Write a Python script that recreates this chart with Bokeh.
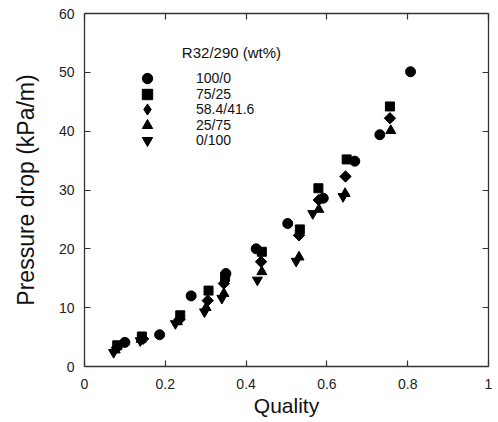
import math
from bokeh.plotting import figure
from bokeh.models import Range1d, LinearAxis, FixedTicker, Label, Legend
from bokeh.embed import file_html
from bokeh.resources import INLINE

# R32/290 mixtures (wt%)
q_100_0 = [0.100, 0.186, 0.264, 0.350, 0.425, 0.503, 0.591, 0.669, 0.731, 0.807]
dp_100_0 = [4.1, 5.4, 12.0, 15.8, 20.0, 24.3, 28.6, 34.9, 39.4, 50.1]

q_75_25 = [0.081, 0.142, 0.237, 0.307, 0.348, 0.439, 0.533, 0.579, 0.649, 0.756]
dp_75_25 = [3.6, 5.1, 8.7, 12.9, 15.2, 19.5, 23.3, 30.3, 35.2, 44.2]

q_584_416 = [0.080, 0.145, 0.235, 0.305, 0.345, 0.437, 0.531, 0.580, 0.646, 0.756]
dp_584_416 = [3.2, 4.7, 8.0, 11.2, 14.1, 17.8, 22.3, 28.3, 32.3, 42.2]

q_25_75 = [0.076, 0.140, 0.230, 0.301, 0.345, 0.439, 0.531, 0.580, 0.645, 0.758]
dp_25_75 = [2.8, 4.6, 7.6, 10.0, 12.4, 16.1, 18.6, 26.7, 29.4, 40.1]

q_0_100 = [0.072, 0.138, 0.225, 0.297, 0.340, 0.428, 0.524, 0.565, 0.640]
dp_0_100 = [2.4, 4.4, 7.3, 9.3, 11.6, 14.7, 17.9, 26.0, 28.9]

series_labels = ["100/0", "75/25", "58.4/41.6", "25/75", "0/100"]
legend_title = "R32/290 (wt%)"

x_ticks = [0, 0.2, 0.4, 0.6, 0.8, 1]
x_tick_labels = ["0", "0.2", "0.4", "0.6", "0.8", "1"]
y_ticks = [0, 10, 20, 30, 40, 50, 60]

FONT = "Liberation Sans"

p = figure(width=498, height=422, output_backend="svg", toolbar_location=None,
           x_range=Range1d(0, 1), y_range=Range1d(0, 60),
           min_border_left=84, min_border_right=10, min_border_top=13, min_border_bottom=56,
           x_axis_label="Quality", y_axis_label="Pressure drop (kPa/m)")
p.grid.visible = False
p.outline_line_color = None
p.background_fill_color = "white"

def style_axis(ax, ticks, show_labels=True):
    ax.ticker = FixedTicker(ticks=ticks)
    ax.axis_line_color = "#333333"
    ax.axis_line_width = 1.3
    ax.major_tick_line_color = "#333333"
    ax.major_tick_line_width = 1.2
    ax.major_tick_in = 6
    ax.major_tick_out = 0
    ax.minor_tick_line_color = None
    ax.major_label_text_font = FONT
    ax.major_label_text_color = "#222222"
    if show_labels:
        ax.major_label_text_font_size = "14px"
    else:
        ax.major_label_text_font_size = "0px"
        ax.major_label_text_color = None
        ax.major_label_standoff = 0

xa = p.xaxis[0]
ya = p.yaxis[0]
style_axis(xa, x_ticks)
style_axis(ya, y_ticks)
xa.major_label_overrides = {t: l for t, l in zip(x_ticks, x_tick_labels)}
xa.major_label_standoff = 12
ya.major_label_standoff = 10
for ax, fs in ((xa, "21px"), (ya, "23px")):
    ax.axis_label_text_font = FONT
    ax.axis_label_text_font_size = fs
    ax.axis_label_text_font_style = "normal"
    ax.axis_label_text_color = "#111111"
xa.axis_label_standoff = 2
ya.axis_label_standoff = 17

top = LinearAxis()
style_axis(top, x_ticks, show_labels=False)
p.add_layout(top, "above")
right = LinearAxis()
style_axis(right, y_ticks, show_labels=False)
p.add_layout(right, "right")

kw = dict(fill_color="black", line_color="black")
r1 = p.scatter(q_100_0, dp_100_0, marker="circle", size=10, **kw)
r2 = p.scatter(q_75_25, dp_75_25, marker="square", size=9, **kw)
r3 = p.scatter(q_584_416, dp_584_416, marker="square", size=8, angle=math.pi / 4, **kw)
r4 = p.scatter(q_25_75, dp_25_75, marker="triangle", size=10, **kw)
r5 = p.scatter(q_0_100, dp_0_100, marker="inverted_triangle", size=10, **kw)
# legend-only key for the diamond series (legend glyphs ignore marker angle);
# its single point is NaN so nothing is drawn in the plot area
r3_key = p.scatter(x=[float("nan")], y=[float("nan")], marker="diamond", size=12, **kw)

# one single-item legend per row, so rows can sit closer than the glyph box
row_pitch = 15.5
legend_renderers = [r1, r2, r3_key, r4, r5]
for i, (lab, r) in enumerate(zip(series_labels, legend_renderers)):
    box = 28 if r is r3_key else 26
    centre_from_top = 78 + row_pitch * i
    vy = 366 - (centre_from_top + box / 2)
    vx = int(147 - box / 2 - 84)
    lg = Legend(items=[(lab, [r])],
                location=(vx, vy), padding=0, spacing=0, margin=0,
                glyph_width=box, glyph_height=box, label_height=15,
                label_standoff=int(196 - 84 - vx - box),
                border_line_color=None, background_fill_alpha=0,
                label_text_font=FONT, label_text_font_size="14px", label_text_color="#111111")
    p.add_layout(lg)

p.add_layout(Label(x=0.241, y=53.4, text=legend_title, text_font=FONT,
                   text_font_size="15px", text_baseline="middle", text_color="#111111"))

open("out.html", "w").write(file_html(p, INLINE))
